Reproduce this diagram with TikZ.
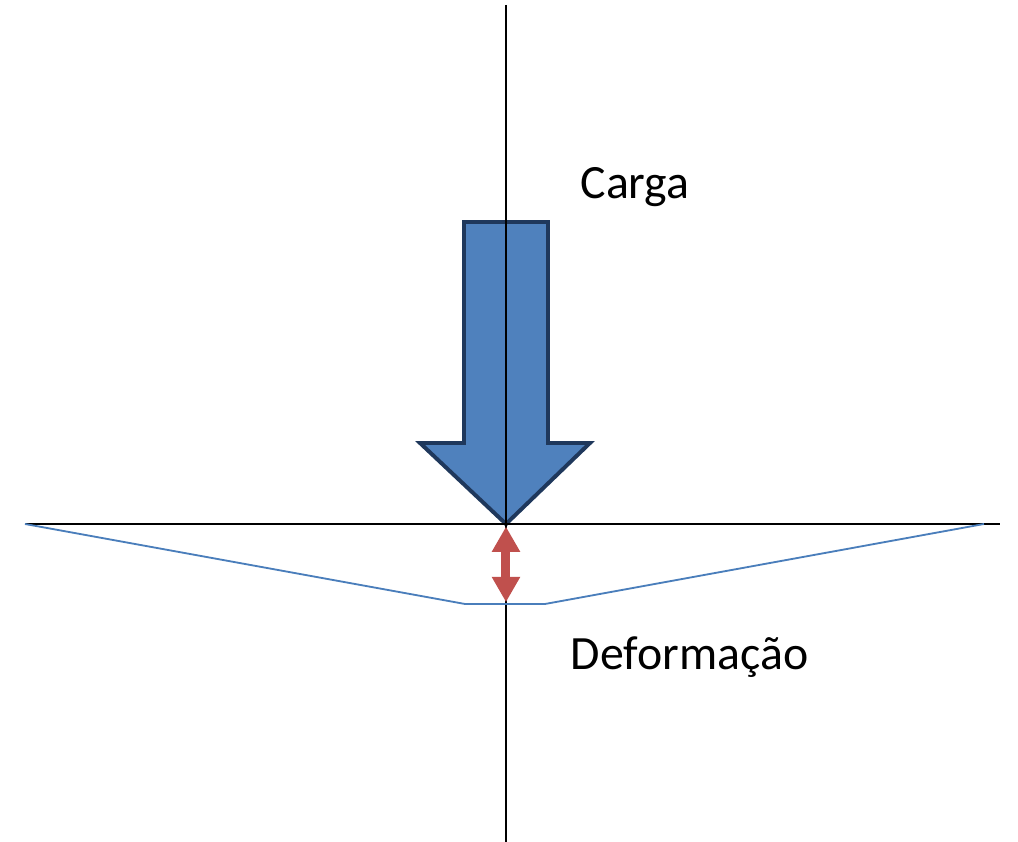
\documentclass[tikz,border=0pt]{standalone}
\usepackage{fontspec}
\setmainfont{Carlito}
\usepackage{tikz}
\usetikzlibrary{arrows.meta,positioning}
\definecolor{cLoad}{RGB}{79,129,189}
\definecolor{cLoadEdge}{RGB}{31,56,92}
\definecolor{cDef}{RGB}{74,126,187}
\definecolor{cGap}{RGB}{192,80,77}

\begin{document}
\begin{tikzpicture}[
  axis/.style={draw=black, line width=1.2pt},
  lbl/.style={font=\fontsize{34}{38}\selectfont, inner sep=0pt},
  load/.style={fill=cLoad, draw=cLoadEdge, line width=2.8pt, line join=miter},
  defl/.style={draw=cDef, line width=1.3pt},
  gap/.style={{Triangle[length=18pt,width=19pt]}-{Triangle[length=18pt,width=19pt]},
              draw=cGap, fill=cGap, line width=6.4pt, shorten <=-1pt, shorten >=-1pt}]
\useasboundingbox (-12.65,-7.95) rectangle (12.8,13.1);
% reference points
\coordinate (tip) at (0,0);
\coordinate (top) at (0,12.975);
\coordinate (bot) at (0,-7.95);
\coordinate (west) at (-12.025,0);
\coordinate (east) at (12.35,0);
\coordinate (dwest) at (-1.025,-2.0);
\coordinate (deast) at (0.975,-2.0);
\coordinate (dend) at (11.95,0);
\coordinate (gtop) at (0,-0.1);
\coordinate (gbot) at (0,-1.92);
% load arrow
\path[load] (-1.05,7.55) -- (1.05,7.55) -- (1.05,2.025) -- (2.1,2.025)
  -- (tip) -- (-2.15,2.025) -- (-1.05,2.025) -- cycle;
% axes
\draw[axis] (top) -- (bot);
\draw[axis] (west) -- (east);
% deformed line
\draw[defl] (west) -- (dwest) -- (deast) -- (dend);
% deformation
\draw[gap] (gtop) -- (gbot);
\node[lbl] (carga) at (3.225,8.425) {Carga};
\node[lbl] (deform) at (4.59,-3.325) {Deformação};
\end{tikzpicture}
\end{document}
